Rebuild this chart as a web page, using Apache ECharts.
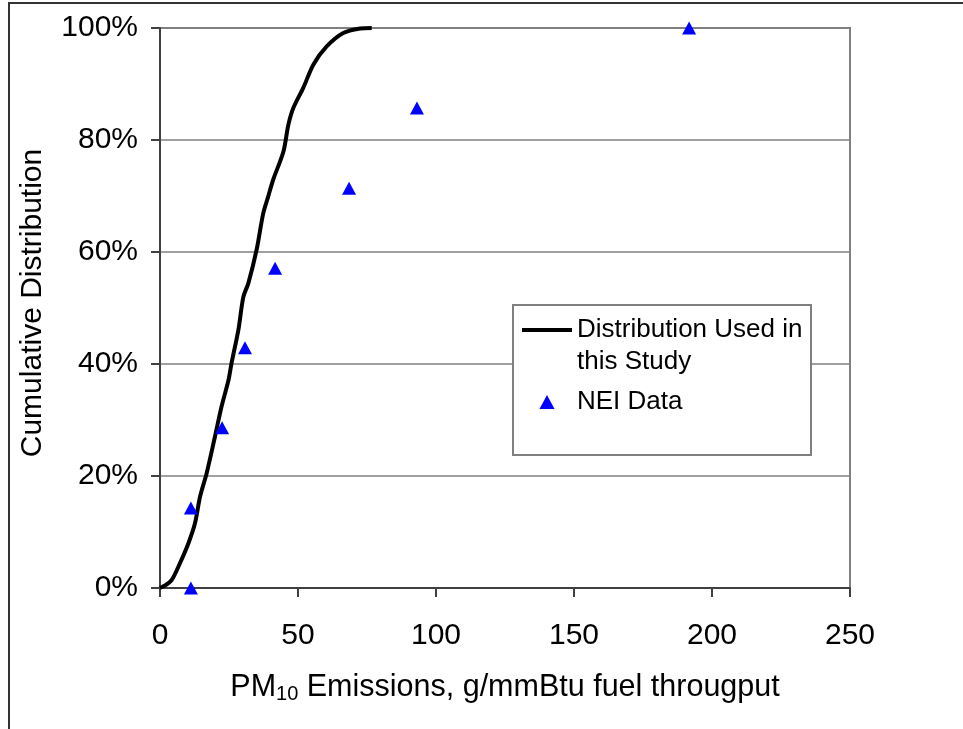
<!DOCTYPE html>
<html>
<head>
<meta charset="utf-8">
<script src="https://cdn.jsdelivr.net/npm/echarts@6/dist/echarts.min.js"></script>
<style>
  html, body { margin: 0; padding: 0; background: #fff; }
  #chart { width: 963px; height: 729px; }
</style>
</head>
<body>
<div id="chart"></div>
<script>
// distribution curve (x = g/mmBtu, y = cumulative %)
const curveX = [0, 2, 4.2, 7.2, 10.3, 12.7, 14.5, 16.9, 19.9, 22.3, 24.8, 25.9, 28.4, 30.2, 32, 35, 37.4, 39.2, 41, 44.7, 46.5, 48.3, 51.9, 55.6, 60.4, 66.4, 72.5, 76.7]
const curveY = [0, 0.5, 1.4, 4.4, 8, 11.6, 16.3, 20.5, 27, 32.4, 37.1, 40.1, 46.1, 52, 54.4, 60.4, 66.9, 69.9, 72.9, 77.9, 82.7, 85.7, 89.3, 93.5, 96.7, 99.1, 99.9, 100]

// NEI data points
const neiX = [11.2, 11.2, 22.5, 30.8, 41.7, 68.5, 93.1, 191.7]
const neiY = [0, 14.3, 28.6, 42.9, 57.1, 71.4, 85.7, 100]

const xTicks = [0, 50, 100, 150, 200, 250]
const yTicks = [0, 20, 40, 60, 80, 100]

const font = 'Liberation Sans, Arial, sans-serif'

const chart = echarts.init(document.getElementById('chart'))

const option = {
  animation: false,
  textStyle: { fontFamily: font, color: '#000' },
  graphic: [
    {
      // outer frame of the figure
      type: 'rect',
      shape: { x: 9, y: 3, width: 1000, height: 800 },
      style: { fill: 'none', stroke: '#333', lineWidth: 2 },
      z: 0
    },
    {
      // legend box
      type: 'rect',
      shape: { x: 513, y: 305, width: 298, height: 150 },
      style: { fill: '#fff', stroke: '#808080', lineWidth: 2 },
      z: 5
    }
  ],
  grid: {
    left: 160,
    top: 28,
    right: 113,
    bottom: 141,
    show: true,
    borderColor: '#808080',
    borderWidth: 2
  },
  legend: {
    orient: 'vertical',
    left: 522,
    top: 282,
    padding: 0,
    itemWidth: 50,
    itemHeight: 14,
    itemGap: 8,
    z: 10,
    textStyle: { fontFamily: font, fontSize: 26, color: '#000', lineHeight: 32 },
    // blank first line keeps the line sample level with the first text line
    formatter: name => (name.indexOf('\n') >= 0 ? '\n' + name : name),
    data: [
      { name: 'Distribution Used in\nthis Study', icon: 'path://M0,0 H50 V4 H0 Z' },
      { name: 'NEI Data', icon: 'path://M7,0 L14,13 L0,13 Z' }
    ]
  },
  xAxis: {
    type: 'value',
    min: 0,
    max: 250,
    interval: 50,
    name: '{a|PM}{s|10}{a| Emissions, g/mmBtu fuel througput}',
    nameLocation: 'middle',
    nameGap: 84,
    nameTextStyle: {
      rich: {
        a: { fontFamily: font, fontSize: 30.5, color: '#000' },
        s: { fontFamily: font, fontSize: 20, color: '#000', verticalAlign: 'bottom', padding: [12, 0, 0, 0] }
      }
    },
    axisLine: { show: true, lineStyle: { color: '#404040', width: 2 } },
    axisTick: { show: true, inside: false, length: 9, lineStyle: { color: '#404040', width: 2 } },
    axisLabel: {
      fontSize: 30,
      color: '#000',
      margin: 33,
      formatter: v => (xTicks.includes(v) ? String(v) : '')
    },
    splitLine: { show: false }
  },
  yAxis: {
    type: 'value',
    min: 0,
    max: 100,
    interval: 20,
    name: 'Cumulative Distribution',
    nameLocation: 'middle',
    nameRotate: 90,
    nameGap: 112,
    nameTextStyle: { fontFamily: font, fontSize: 30, color: '#000', padding: [0, 0, 0, 10] },
    axisLine: { show: true, lineStyle: { color: '#404040', width: 2 } },
    axisTick: { show: true, inside: false, length: 9, lineStyle: { color: '#404040', width: 2 } },
    axisLabel: {
      fontSize: 30,
      color: '#000',
      margin: 22,
      formatter: v => (yTicks.includes(v) ? v + '%' : '')
    },
    splitLine: { show: true, lineStyle: { color: '#808080', width: 1.5 } }
  },
  series: [
    {
      name: 'Distribution Used in\nthis Study',
      type: 'line',
      data: curveX.map((x, i) => [x, curveY[i]]),
      symbol: 'none',
      smooth: 0.3,
      lineStyle: { color: '#000', width: 4 },
      itemStyle: { color: '#000' },
      z: 3
    },
    {
      name: 'NEI Data',
      type: 'scatter',
      data: neiX.map((x, i) => [x, neiY[i]]),
      symbol: 'triangle',
      symbolSize: [14, 13],
      itemStyle: { color: '#0000ff', opacity: 1 },
      z: 4
    }
  ]
}

chart.setOption(option)
</script>
</body>
</html>
